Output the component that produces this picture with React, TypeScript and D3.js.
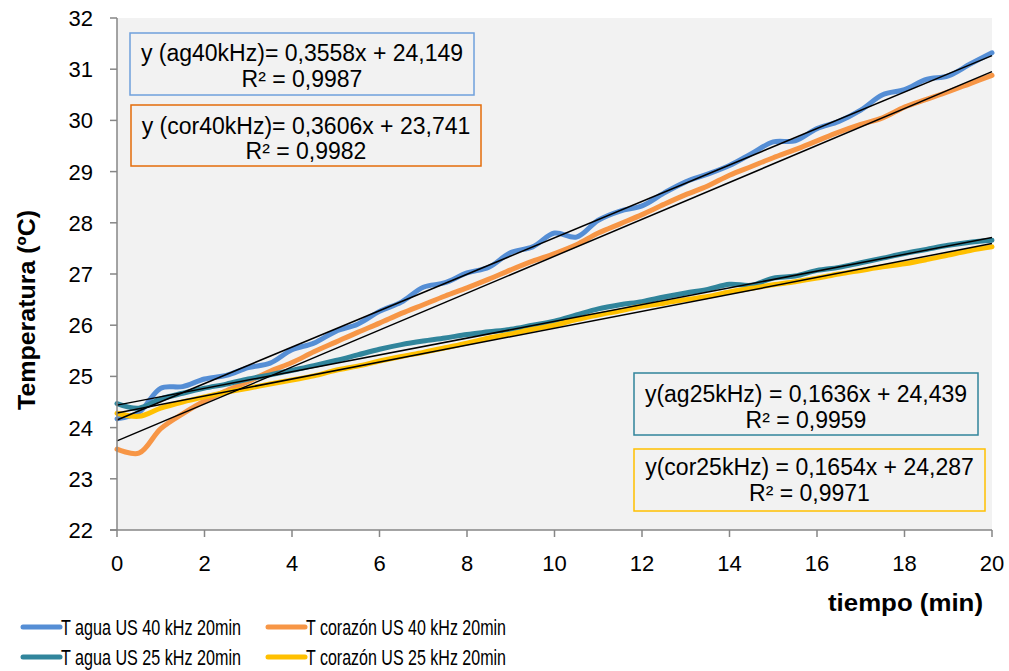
import React from "react";
import * as d3 from "d3";

// tiempo (min), readings every half minute
const minutes = d3.range(0, 20.5, 0.5);

const aguaUS40 = [
  24.17, 24.3, 24.77, 24.8, 24.95, 25.02, 25.17, 25.26, 25.52, 25.65, 25.88,
  26.02, 26.27, 26.45, 26.74, 26.83, 27.02, 27.13, 27.42, 27.53, 27.8, 27.72,
  28.05, 28.23, 28.33, 28.58, 28.8, 28.95, 29.12, 29.35, 29.58, 29.6, 29.84,
  29.98, 30.2, 30.5, 30.6, 30.8, 30.87, 31.1, 31.32,
];
const corazonUS40 = [
  23.58, 23.5, 23.98, 24.27, 24.52, 24.72, 24.9, 25.1, 25.27, 25.48, 25.67,
  25.86, 26.04, 26.23, 26.4, 26.57, 26.73, 26.9, 27.08, 27.25, 27.4, 27.57,
  27.8, 27.98, 28.16, 28.36, 28.55, 28.72, 28.93, 29.1, 29.27, 29.43, 29.6,
  29.77, 29.92, 30.05, 30.26, 30.41, 30.56, 30.72, 30.88,
];
const aguaUS25 = [
  24.47, 24.38, 24.56, 24.67, 24.77, 24.85, 24.95, 25.03, 25.12, 25.21, 25.31,
  25.42, 25.53, 25.62, 25.69, 25.75, 25.82, 25.87, 25.92, 26.0, 26.08, 26.2,
  26.32, 26.4, 26.46, 26.55, 26.63, 26.7, 26.8, 26.78, 26.92, 26.96, 27.07,
  27.13, 27.22, 27.31, 27.4, 27.48, 27.56, 27.62, 27.66,
];
const corazonUS25 = [
  24.28, 24.22, 24.38, 24.5, 24.6, 24.69, 24.77, 24.85, 24.93, 25.01, 25.12,
  25.2, 25.3, 25.39, 25.47, 25.56, 25.65, 25.75, 25.83, 25.92, 26.0, 26.11,
  26.2, 26.28, 26.37, 26.43, 26.5, 26.56, 26.65, 26.72, 26.79, 26.85, 26.92,
  27.0, 27.07, 27.14, 27.2, 27.28, 27.37, 27.46, 27.53,
];

const seriesNames = [
  "T agua US 40 kHz 20min",
  "T corazón US 40 kHz 20min",
  "T agua US 25 kHz 20min",
  "T corazón US 25 kHz 20min",
];
const seriesColors = ["#558ed5", "#f79646", "#31859c", "#ffc000"];

// linear trendlines as printed on the chart
const slopes = [0.3558, 0.3606, 0.1636, 0.1654];
const intercepts = [24.149, 23.741, 24.439, 24.287];
const eqLabels = [
  "y (ag40kHz)= 0,3558x + 24,149",
  "y (cor40kHz)= 0,3606x + 23,741",
  "y(ag25kHz) = 0,1636x + 24,439",
  "y(cor25kHz) = 0,1654x + 24,287",
];
const r2Labels = ["R² = 0,9987", "R² = 0,9982", "R² = 0,9959", "R² = 0,9971"];
const boxBorders = ["#6fa0dc", "#e46c0a", "#31849b", "#ffc000"];

const xTicks = d3.range(0, 21, 2);
const yTicks = d3.range(22, 33, 1);

const W = 1009;
const H = 671;
const margin = { left: 117, right: 17, top: 18, bottom: 141 };
const font = "Liberation Sans, Arial, sans-serif";

export default function App() {
  const x = d3.scaleLinear().domain([0, 20]).range([margin.left, W - margin.right]);
  const y = d3.scaleLinear().domain([22, 32]).range([H - margin.bottom, margin.top]);

  const line = d3
    .line<[number, number]>()
    .x((d) => x(d[0]))
    .y((d) => y(d[1]))
    .curve(d3.curveCatmullRom);

  const allSeries = [aguaUS40, corazonUS40, aguaUS25, corazonUS25];

  // annotation boxes: [x0, y0, x1, y1, line1 baseline, line2 baseline]
  const boxes = [
    [130, 33, 474, 95, 61, 87],
    [131, 105, 481, 166, 134, 159],
    [634, 373, 978, 435, 402, 428],
    [634, 449, 985, 511, 475, 501],
  ];

  const legendPos = [
    [23, 627],
    [268, 627],
    [23, 657],
    [268, 657],
  ];

  return (
    <div style={{ position: "absolute", left: 0, top: 0 }}>
      <svg width={W} height={H} style={{ display: "block", fontFamily: font }}>
        <rect width={W} height={H} fill="#fff" />
        <rect
          x={x(0)}
          y={y(32)}
          width={x(20) - x(0)}
          height={y(22) - y(32)}
          fill="#f2f2f2"
        />

        {/* series */}
        {allSeries.map((vals, i) => (
          <path
            key={seriesNames[i]}
            d={line(minutes.map((t, j) => [t, vals[j]]) as [number, number][]) || ""}
            fill="none"
            stroke={seriesColors[i]}
            strokeWidth={5}
            strokeLinejoin="round"
            strokeLinecap="round"
          />
        ))}

        {/* trendlines */}
        {slopes.map((m, i) => (
          <line
            key={"trend" + i}
            x1={x(0)}
            y1={y(intercepts[i])}
            x2={x(20)}
            y2={y(intercepts[i] + m * 20)}
            stroke="#000"
            strokeWidth={1.5}
          />
        ))}

        {/* axes */}
        <line x1={x(0)} x2={x(0)} y1={y(32)} y2={y(22)} stroke="#868686" strokeWidth={1.5} />
        <line x1={x(0) - 7} x2={x(20)} y1={y(22)} y2={y(22)} stroke="#868686" strokeWidth={1.5} />
        {yTicks.map((t) => (
          <g key={"yt" + t}>
            <line x1={x(0) - 7} x2={x(0)} y1={y(t)} y2={y(t)} stroke="#868686" strokeWidth={1.5} />
            <text x={93} y={y(t) + 8} textAnchor="end" fontSize={22} fill="#000">
              {t}
            </text>
          </g>
        ))}
        {xTicks.map((t) => (
          <g key={"xt" + t}>
            <line x1={x(t)} x2={x(t)} y1={y(22)} y2={y(22) + 7} stroke="#868686" strokeWidth={1.5} />
            <text x={x(t)} y={571} textAnchor="middle" fontSize={22} fill="#000">
              {t}
            </text>
          </g>
        ))}

        <text
          x={828}
          y={611}
          fontSize={24}
          fontWeight="bold"
          textLength={155}
          lengthAdjust="spacingAndGlyphs"
        >
          tiempo (min)
        </text>
        <text
          transform="translate(35,410) rotate(-90)"
          fontSize={24}
          fontWeight="bold"
          textLength={200}
          lengthAdjust="spacingAndGlyphs"
        >
          Temperatura (ºC)
        </text>

        {/* equation boxes */}
        {boxes.map((b, i) => (
          <g key={"box" + i}>
            <rect
              x={b[0]}
              y={b[1]}
              width={b[2] - b[0]}
              height={b[3] - b[1]}
              fill="#f2f2f2"
              stroke={boxBorders[i]}
              strokeWidth={1.5}
            />
            <text x={(b[0] + b[2]) / 2} y={b[4]} textAnchor="middle" fontSize={23}>
              {eqLabels[i]}
            </text>
            <text x={(b[0] + b[2]) / 2} y={b[5]} textAnchor="middle" fontSize={23}>
              {r2Labels[i]}
            </text>
          </g>
        ))}

        {/* legend */}
        {seriesNames.map((name, i) => (
          <g key={"lg" + i}>
            <line
              x1={legendPos[i][0]}
              x2={legendPos[i][0] + 37}
              y1={legendPos[i][1]}
              y2={legendPos[i][1]}
              stroke={seriesColors[i]}
              strokeWidth={5}
              strokeLinecap="round"
            />
            <text
              x={legendPos[i][0] + 38}
              y={legendPos[i][1] + 8}
              fontSize={22}
              textLength={i % 2 === 0 ? 180 : 200}
              lengthAdjust="spacingAndGlyphs"
            >
              {name}
            </text>
          </g>
        ))}
      </svg>
    </div>
  );
}
